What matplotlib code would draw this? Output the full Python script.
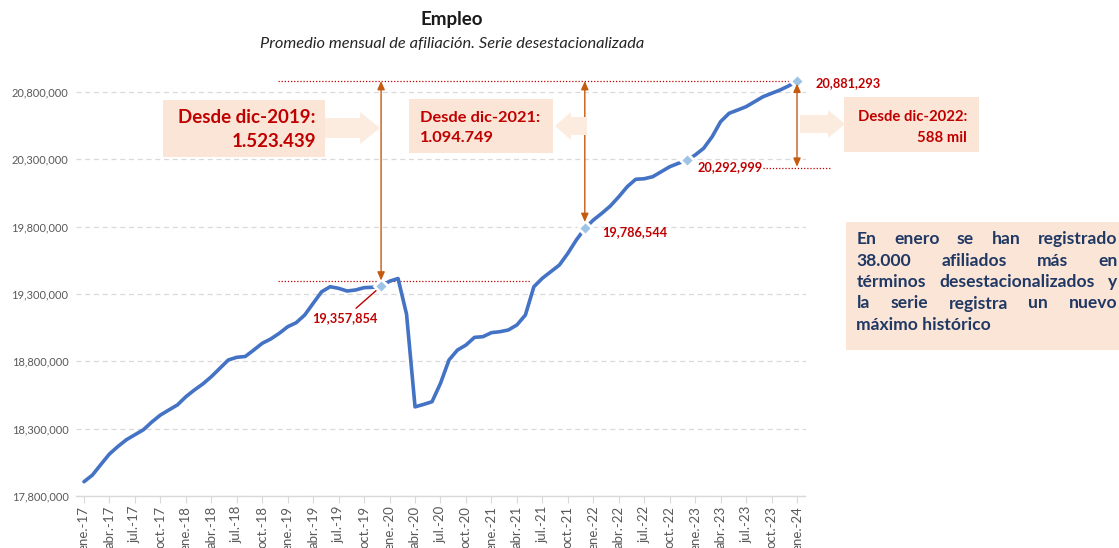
import numpy as np
import matplotlib
matplotlib.use('Agg')
import matplotlib.pyplot as plt
import matplotlib.patches as mpatches
from matplotlib.transforms import Affine2D
from matplotlib.ticker import FuncFormatter

# ---------------- data ----------------
# Promedio mensual de afiliación, serie desestacionalizada (ene-17 ... ene-24)
empleo = [
    17906000, 17956000, 18035000, 18112000, 18168000, 18218000, 18255000, 18292000, 18350000, 18401000, 18439000, 18476000,  # 2017
    18537000, 18587000, 18632000, 18686000, 18748000, 18810000, 18830000, 18836000, 18884000, 18934000, 18966000, 19008000,  # 2018
    19057000, 19087000, 19144000, 19231000, 19317000, 19354000, 19342000, 19322000, 19330000, 19347000, 19350000, 19357854,  # 2019
    19395000, 19415000, 19150000, 18462000, 18480000, 18500000, 18637000, 18810000, 18884000, 18921000, 18978000, 18983000,  # 2020
    19013000, 19020000, 19033000, 19070000, 19144000, 19354000, 19417000, 19466000, 19515000, 19602000, 19701000, 19786544,  # 2021
    19849000, 19899000, 19953000, 20022000, 20097000, 20152000, 20156000, 20171000, 20208000, 20245000, 20270000, 20292999,  # 2022
    20332000, 20382000, 20468000, 20580000, 20642000, 20666000, 20691000, 20728000, 20765000, 20790000, 20815000, 20845000,  # 2023
    20881293,                                                                                                                   # 2024
]
tick_labels = [
    'ene.-17', 'abr.-17', 'jul.-17', 'oct.-17',
    'ene.-18', 'abr.-18', 'jul.-18', 'oct.-18',
    'ene.-19', 'abr.-19', 'jul.-19', 'oct.-19',
    'ene.-20', 'abr.-20', 'jul.-20', 'oct.-20',
    'ene.-21', 'abr.-21', 'jul.-21', 'oct.-21',
    'ene.-22', 'abr.-22', 'jul.-22', 'oct.-22',
    'ene.-23', 'abr.-23', 'jul.-23', 'oct.-23',
    'ene.-24',
]
marker_idx = [35, 59, 71, 84]          # dic-19, dic-21, dic-22, ene-24
marker_labels = ['19,357,854', '19,786,544', '20,292,999', '20,881,293']
box_texts = [('Desde dic-2019:', '1.523.439'),
             ('Desde dic-2021:', '1.094.749'),
             ('Desde dic-2022:', '588 mil')]
note_lines = ['En enero se han registrado',
              '38.000 afiliados más en',
              'términos desestacionalizados y',
              'la serie registra un nuevo',
              'máximo histórico']
title = 'Empleo'
subtitle = 'Promedio mensual de afiliación. Serie desestacionalizada'

# ---------------- style ----------------
plt.rcParams['font.family'] = ['Lato', 'DejaVu Sans']
BLUE = '#4472C4'
MARK = '#9DC3E6'
RED = '#C00000'
ORANGE = '#C55A11'
PEACH = '#FBE5D6'
PEACH_ARROW = '#FCEBDF'
NAVY = '#1F3864'
GRAY = '#595959'
GRID = '#D9D9D9'

W, H = 1119, 548
fig = plt.figure(figsize=(W / 100, H / 100), dpi=100)
PX = Affine2D().scale(1 / W, -1 / H).translate(0, 1) + fig.transFigure

ax = fig.add_axes([75.5 / W, 52 / H, 730 / W, (496 - 74.5) / H])
xs = np.arange(len(empleo))
ax.plot(xs, empleo, color=BLUE, lw=2.6, solid_joinstyle='round',
        solid_capstyle='round', zorder=3)
for i in marker_idx:
    ax.plot(i, empleo[i], marker='D', ms=7.5, mfc=MARK, mec='white', mew=2.0,
            zorder=4, clip_on=False)

ax.set_xlim(-1, 85)
ax.set_ylim(17.8e6, 20.93e6)
ax.set_yticks(np.arange(17.8e6, 20.81e6, 5e5))
ax.yaxis.set_major_formatter(FuncFormatter(lambda v, p: f'{v:,.0f}'))
ax.set_xticks(np.arange(0, len(empleo), 3))
ax.set_xticklabels(tick_labels, rotation=90)
ax.grid(axis='y', ls=(0, (4, 3)), color=GRID, lw=0.9)
ax.set_axisbelow(True)
for s in ['top', 'right', 'left']:
    ax.spines[s].set_visible(False)
ax.spines['bottom'].set_color(GRID)
ax.spines['bottom'].set_linewidth(1.0)
ax.tick_params(axis='y', length=0, pad=5, labelsize=8, labelcolor=GRAY)
ax.tick_params(axis='x', length=5, color=GRID, labelsize=9.5, labelcolor=GRAY, pad=2)

# ---------------- titles ----------------
fig.text(452, 20, title, transform=PX, ha='center', va='center',
         fontsize=13.5, fontweight='bold', color='#1a1a1a')
fig.text(452, 44, subtitle, transform=PX, ha='center', va='center',
         fontsize=11.8, style='italic', color='#262626')

# ---------------- reference lines & arrows ----------------
top = empleo[84]
ax.plot([22.9, 84.6], [top, top], ls=(0, (1, 1.5)), color=RED, lw=0.9, zorder=2, clip_on=False)
ax.plot([22.9, 52.6], [19.40e6, 19.40e6], ls=(0, (1, 1.5)), color=RED, lw=0.9, zorder=2)
ax.plot([80.0, 87.9], [20.236e6, 20.236e6], ls=(0, (1, 1.5)), color=RED, lw=0.9, zorder=2, clip_on=False)

arrow_kw = dict(arrowstyle='<|-|>,head_length=0.5,head_width=0.22', color=ORANGE, lw=1.0,
                shrinkA=0, shrinkB=0, mutation_scale=10)
ax.annotate('', xy=(35, top), xytext=(35, 19.40e6), arrowprops=arrow_kw, zorder=5)
ax.annotate('', xy=(59, top), xytext=(59, 19.835e6), arrowprops=arrow_kw, zorder=5)
ax.annotate('', xy=(84, 20.862e6), xytext=(84, 20.245e6), arrowprops=arrow_kw, zorder=5)

# ---------------- data labels ----------------
lab_kw = dict(color=RED, fontsize=9.2, fontweight='bold')
ax.annotate(marker_labels[0], xy=(35, empleo[35]), xytext=(30.75, 19.122e6),
            ha='center', va='center',
            arrowprops=dict(arrowstyle='-', color=RED, lw=1.0, shrinkA=1, shrinkB=4), **lab_kw)
ax.text(61.1, 19.763e6, marker_labels[1], ha='left', va='center', **lab_kw)
ax.text(80.0, 20.243e6, marker_labels[2], ha='right', va='center', **lab_kw)
ax.text(86.2, 20.867e6, marker_labels[3], ha='left', va='center', clip_on=False, **lab_kw)

# ---------------- boxes ----------------
def rect(x, y, w, h, color):
    fig.add_artist(mpatches.Rectangle((x, y), w, h, transform=PX, facecolor=color,
                                      edgecolor='none', zorder=1))

def block_arrow(x_tail, x_tip, yc, body=10, head=16, head_len=20):
    d = 1 if x_tip > x_tail else -1
    xb = x_tip - d * head_len
    pts = [(x_tail, yc - body), (xb, yc - body), (xb, yc - head), (x_tip, yc),
           (xb, yc + head), (xb, yc + body), (x_tail, yc + body)]
    fig.add_artist(mpatches.Polygon(pts, closed=True, transform=PX, facecolor=PEACH_ARROW,
                                    edgecolor='none', zorder=1))

# box 1
rect(163, 100, 162, 57, PEACH)
block_arrow(325, 380, 128, body=10, head=16, head_len=20)
fig.text(316, 123, box_texts[0][0], transform=PX, ha='right', va='baseline',
         fontsize=13.5, fontweight='bold', color=RED)
fig.text(316, 147, box_texts[0][1], transform=PX, ha='right', va='baseline',
         fontsize=13.5, fontweight='bold', color=RED)
# box 2
rect(409, 99, 144, 54, PEACH)
block_arrow(587, 555, 126, body=9, head=14, head_len=16)
fig.text(420, 122, box_texts[1][0], transform=PX, ha='left', va='baseline',
         fontsize=11.8, fontweight='bold', color=RED)
fig.text(420, 142, box_texts[1][1], transform=PX, ha='left', va='baseline',
         fontsize=11.8, fontweight='bold', color=RED)
# box 3
rect(844, 97, 135, 55, PEACH)
block_arrow(800, 845, 124, body=9, head=14, head_len=17)
fig.text(967, 121, box_texts[2][0], transform=PX, ha='right', va='baseline',
         fontsize=10.7, fontweight='bold', color=RED)
fig.text(967, 142, box_texts[2][1], transform=PX, ha='right', va='baseline',
         fontsize=10.7, fontweight='bold', color=RED)

# box 4 (justified note)
rect(846, 222, 280, 128, PEACH)
renderer = fig.canvas.get_renderer()
x_left, x_right = 856.5, 1117.5
baselines = [244, 265.5, 287, 308.5, 330]
note_kw = dict(transform=PX, ha='left', va='baseline', fontsize=12.6,
               fontweight='bold', color=NAVY)
for k, (line, yb) in enumerate(zip(note_lines, baselines)):
    words = line.split()
    if k == len(note_lines) - 1 or len(words) == 1:
        fig.text(x_left, yb, line, **note_kw)
        continue
    txts = [fig.text(x_left, yb, w, **note_kw) for w in words]
    widths = [t.get_window_extent(renderer).width for t in txts]
    gap = ((x_right - x_left) - sum(widths)) / (len(words) - 1)
    cur = x_left
    for t, wdt in zip(txts, widths):
        t.set_x(cur)
        cur += wdt + gap

fig.savefig('out.png', dpi=100)
